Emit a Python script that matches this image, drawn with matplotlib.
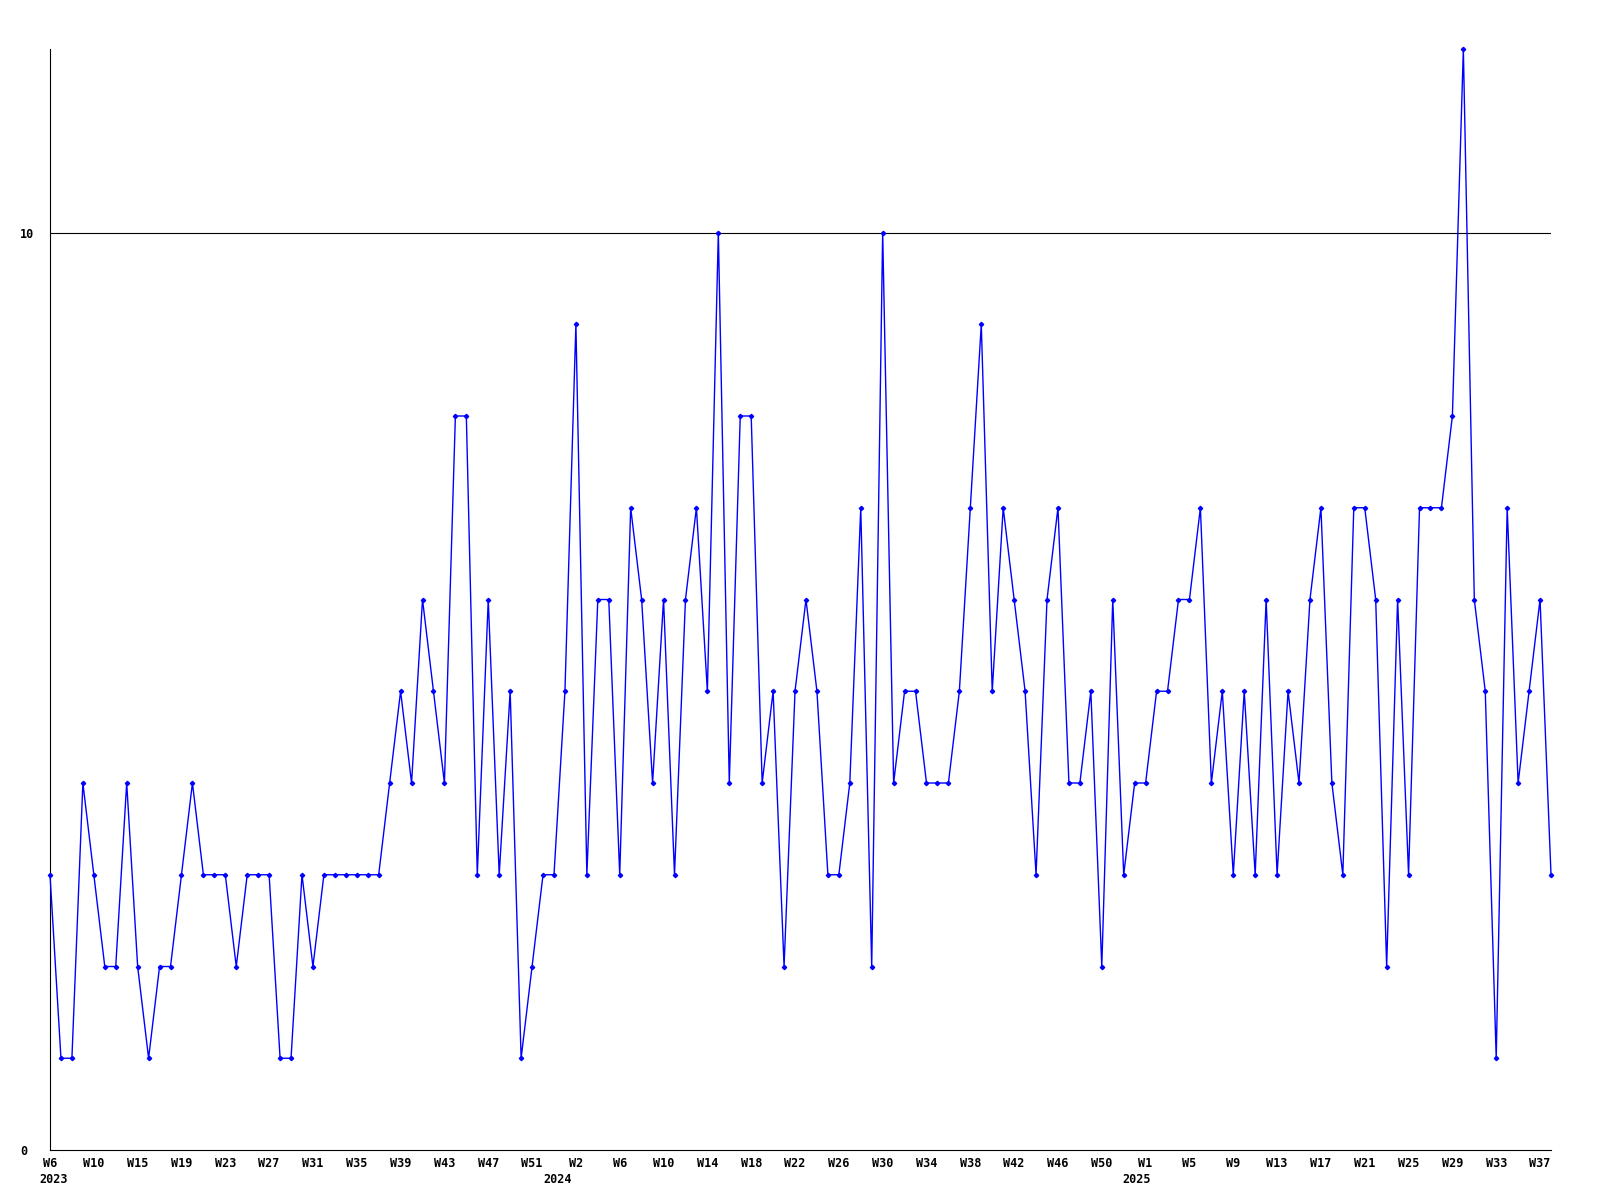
import matplotlib
matplotlib.use('Agg')
import matplotlib.pyplot as plt

# weekly counts, 2023 W6 .. 2025 W38
values = [
    3, 1, 1, 4, 3, 2, 2, 4, 2, 1, 2, 2, 3, 4, 3, 3, 3, 2, 3, 3,
    3, 1, 1, 3, 2, 3, 3, 3, 3, 3, 3, 4, 5, 4, 6, 5, 4, 8, 8, 3,
    6, 3, 5, 1, 2, 3, 3, 5, 9, 3, 6, 6, 3, 7, 6, 4, 6, 3, 6, 7,
    5, 10, 4, 8, 8, 4, 5, 2, 5, 6, 5, 3, 3, 4, 7, 2, 10, 4, 5, 5,
    4, 4, 4, 5, 7, 9, 5, 7, 6, 5, 3, 6, 7, 4, 4, 5, 2, 6, 3, 4,
    4, 5, 5, 6, 6, 7, 4, 5, 3, 5, 3, 6, 3, 5, 4, 6, 7, 4, 3, 7,
    7, 6, 2, 6, 3, 7, 7, 7, 8, 12, 6, 5, 1, 7, 4, 5, 6, 3,
]

# one label every 4 points
week_labels = [
    'W6', 'W10', 'W15', 'W19', 'W23', 'W27', 'W31', 'W35', 'W39', 'W43',
    'W47', 'W51', 'W2', 'W6', 'W10', 'W14', 'W18', 'W22', 'W26', 'W30',
    'W34', 'W38', 'W42', 'W46', 'W50', 'W1', 'W5', 'W9', 'W13', 'W17',
    'W21', 'W25', 'W29', 'W33', 'W37',
]
year_labels = ['2023', '2024', '2025']
year_positions = [0.3, 46.3, 99.2]

W, H = 1600, 1200
fig = plt.figure(figsize=(16, 12), dpi=100)
ax = fig.add_axes([50 / W, 1 - 1150 / H, 1501 / W, 1101 / H])

x = list(range(len(values)))
ax.plot(x, values, color='#0000ff', linewidth=1.0, marker='D', markersize=2.2,
        clip_on=False, zorder=3)
ax.axhline(10, color='black', linewidth=0.8, zorder=1)

ax.set_xlim(0, len(values) - 1)
ax.set_ylim(0, 12)

for side in ['top', 'right']:
    ax.spines[side].set_visible(False)
for side in ['left', 'bottom']:
    ax.spines[side].set_linewidth(0.8)
    ax.spines[side].set_color('black')

font = dict(family='DejaVu Sans Mono', weight='bold', size=8.5)

ax.set_xticks(range(0, len(values), 4))
ax.set_xticklabels(week_labels, **font)
ax.set_yticks([0, 10])
ax.set_yticklabels(['0', '10'], **font)
ax.tick_params(axis='x', length=0, pad=5)
ax.tick_params(axis='y', length=0, pad=21.6)
for lab in ax.get_yticklabels():
    lab.set_horizontalalignment('left')

for yl, yp in zip(year_labels, year_positions):
    ax.annotate(yl, xy=(yp, 0), xycoords=('data', 'axes fraction'),
                xytext=(0, -23), textcoords='offset pixels',
                ha='center', va='top', **font)

fig.savefig('out.png', dpi=100, facecolor='white')
